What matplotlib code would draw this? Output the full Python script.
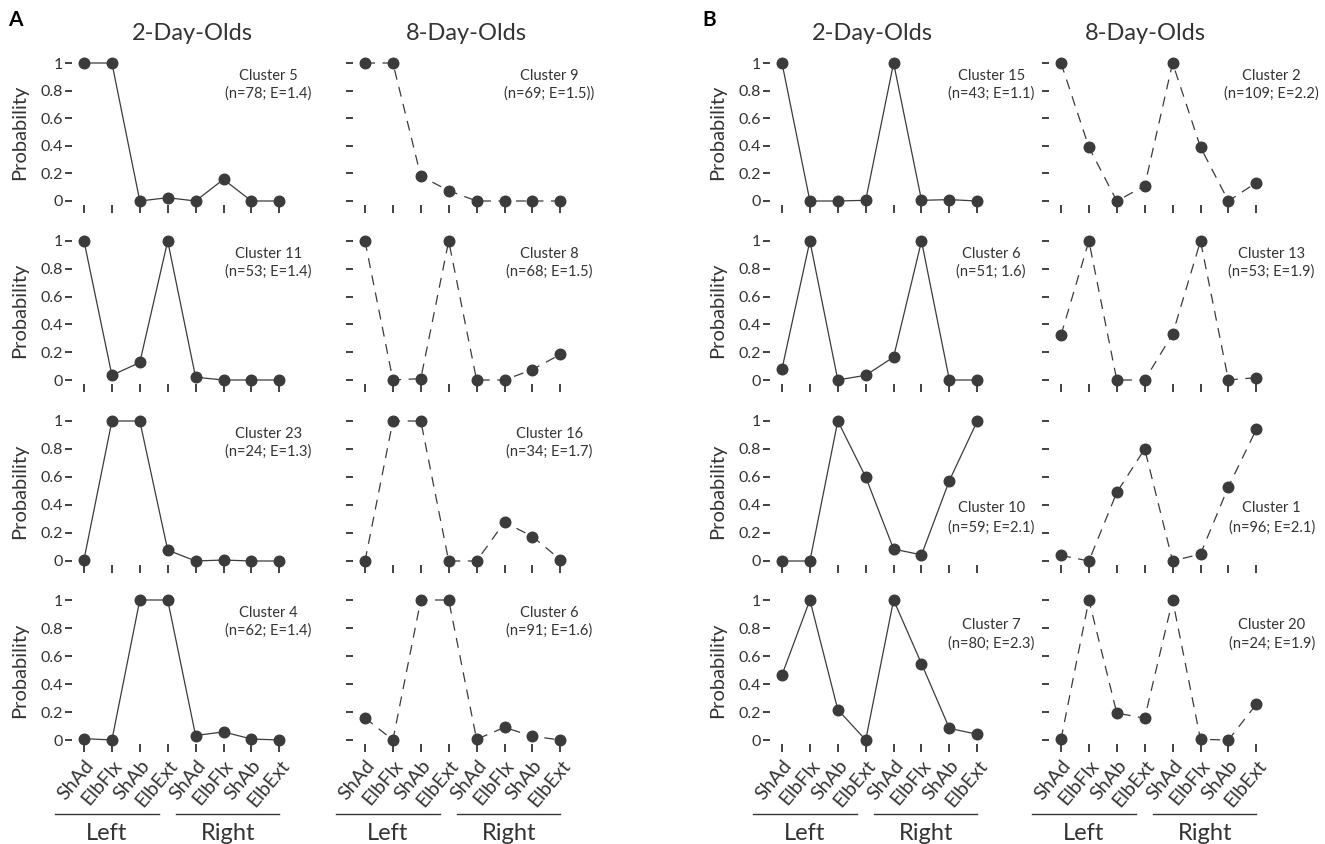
import matplotlib
matplotlib.use("Agg")
import matplotlib.pyplot as plt

plt.rcParams['font.family'] = ['Lato', 'DejaVu Sans']

muscles = ["ShAd", "ElbFlx", "ShAb", "ElbExt"]
tick_labels = muscles + muscles
sides = ["Left", "Right"]
ages = ["2-Day-Olds", "8-Day-Olds"]
panel_letters = ["A", "B"]
yticks = [0, 0.2, 0.4, 0.6, 0.8, 1]
ytick_labels = ["0", "0.2", "0.4", "0.6", "0.8", "1"]

# panel A, 2-day-olds (solid)
a2_names = ["Cluster 5", "Cluster 11", "Cluster 23", "Cluster 4"]
a2_stats = ["(n=78; E=1.4)", "(n=53; E=1.4)", "(n=24; E=1.3)", "(n=62; E=1.4)"]
a2_vals = [
    [1, 1, 0, 0.024, 0, 0.157, 0, 0],
    [1, 0.034, 0.126, 1, 0.02, 0, 0, 0],
    [0.01, 1, 1, 0.078, 0, 0.007, 0, 0],
    [0.01, 0, 1, 1, 0.032, 0.058, 0.007, 0],
]

# panel A, 8-day-olds (dashed)
a8_names = ["Cluster 9", "Cluster 8", "Cluster 16", "Cluster 6"]
a8_stats = ["(n=69; E=1.5))", "(n=68; E=1.5)", "(n=34; E=1.7)", "(n=91; E=1.6)"]
a8_vals = [
    [1, 1, 0.18, 0.075, 0, 0, 0, 0],
    [1, 0, 0.01, 1, 0, 0, 0.075, 0.184],
    [0, 1, 1, 0, 0, 0.277, 0.175, 0.01],
    [0.158, 0, 1, 1, 0.005, 0.09, 0.027, 0],
]

# panel B, 2-day-olds (solid)
b2_names = ["Cluster 15", "Cluster 6", "Cluster 10", "Cluster 7"]
b2_stats = ["(n=43; E=1.1)", "(n=51; 1.6)", "(n=59; E=2.1)", "(n=80; E=2.3)"]
b2_vals = [
    [1, 0, 0, 0.005, 1, 0.005, 0.01, 0],
    [0.08, 1, 0, 0.034, 0.165, 1, 0, 0],
    [0, 0, 1, 0.6, 0.085, 0.044, 0.575, 1],
    [0.465, 1, 0.217, 0, 1, 0.545, 0.083, 0.041],
]

# panel B, 8-day-olds (dashed)
b8_names = ["Cluster 2", "Cluster 13", "Cluster 1", "Cluster 20"]
b8_stats = ["(n=109; E=2.2)", "(n=53; E=1.9)", "(n=96; E=2.1)", "(n=24; E=1.9)"]
b8_vals = [
    [1, 0.39, 0, 0.11, 1, 0.39, 0, 0.133],
    [0.323, 1, 0, 0, 0.33, 1, 0, 0.017],
    [0.04, 0, 0.49, 0.8, 0, 0.05, 0.53, 0.94],
    [0.005, 1, 0.192, 0.156, 1, 0.005, 0, 0.255],
]

columns = [
    (a2_names, a2_stats, a2_vals, True),
    (a8_names, a8_stats, a8_vals, False),
    (b2_names, b2_stats, b2_vals, True),
    (b8_names, b8_stats, b8_vals, False),
]

W, H = 1325, 844
dark = "#3b3b3b"
txt = "#333333"

fig = plt.figure(figsize=(W / 100, H / 100), dpi=100)

# layout in pixels
col_x0 = [84, 365, 782, 1061]
row_y0 = [201, 380, 561, 740]
row_y1 = [63, 241, 421, 600]
step = 27.9
xmin, xmax = -0.43, 7.6
label_x = [6.6, 6.6, 7.5, 7.55]

for c, (names, stats, vals, solid) in enumerate(columns):
    for r in range(4):
        left = col_x0[c] + xmin * step
        width = (xmax - xmin) * step
        bottom = H - row_y0[r]
        height = row_y0[r] - row_y1[r]
        ax = fig.add_axes([left / W, bottom / H, width / W, height / H])
        ax.set_xlim(xmin, xmax)
        ax.set_ylim(0, 1)
        for s in ax.spines.values():
            s.set_visible(False)
        ax.spines['bottom'].set_position(('outward', 3))
        ax.patch.set_visible(False)

        ls = '-' if solid else (0, (8, 6))
        x = list(range(len(vals[r])))
        ax.plot(x, vals[r], color=dark, lw=0.9, ls=ls, clip_on=False, zorder=2)
        ax.plot(x, vals[r], 'o', color=dark, ms=7.6, mec=dark, clip_on=False, zorder=3)

        ax.set_yticks(yticks)
        if c % 2 == 0:
            ax.set_yticklabels(ytick_labels, fontsize=11.5, color=txt)
            fig.text(20 / W if c == 0 else 718 / W,
                     (H - (row_y0[r] + row_y1[r]) / 2) / H,
                     "Probability", rotation=90, fontsize=14.5, color=txt,
                     ha='center', va='center')
        else:
            ax.set_yticklabels([])
        ax.tick_params(axis='y', direction='out', length=5, width=1.3,
                       color=txt, pad=1.5)
        ax.set_xticks(x)
        ax.tick_params(axis='x', direction='out', length=6, width=1.3,
                       color=txt, pad=3)

        ly = (0.905, 0.78)
        if c >= 2 and r == 2:
            ly = (0.38, 0.24)
        if c >= 2 and r == 3:
            ly = (0.82, 0.69)
        ax.text(label_x[c], ly[0], names[r], fontsize=10.5, color=txt,
                ha='center', va='center', clip_on=False)
        ax.text(label_x[c], ly[1], stats[r], fontsize=10.5, color=txt,
                ha='center', va='center', clip_on=False)

        if r == 3:
            ax.set_xticklabels(tick_labels, rotation=50, ha='right', va='top',
                               rotation_mode='anchor', fontsize=14, color=txt)
            tr = ax.get_xaxis_transform()
            for lo, hi, name in [(-1.05, 2.7, sides[0]), (3.3, 7.0, sides[1])]:
                ax.plot([lo, hi], [-0.53, -0.53], color=txt, lw=1.0,
                        transform=tr, clip_on=False)
                ax.text((lo + hi) / 2, -0.67, name, transform=tr, fontsize=17,
                        color=txt, ha='center', va='center')
        else:
            ax.set_xticklabels([])

title_x = [192, 466, 872, 1145]
for c in range(4):
    fig.text(title_x[c] / W, 1 - 33 / H, ages[c % 2], fontsize=17, color=txt,
             ha='center', va='center')

fig.text(15 / W, 1 - 20 / H, panel_letters[0], fontsize=15, weight='bold',
         ha='center', va='center')
fig.text(709 / W, 1 - 20 / H, panel_letters[1], fontsize=15, weight='bold',
         ha='center', va='center')

fig.savefig("out.png", dpi=100)
